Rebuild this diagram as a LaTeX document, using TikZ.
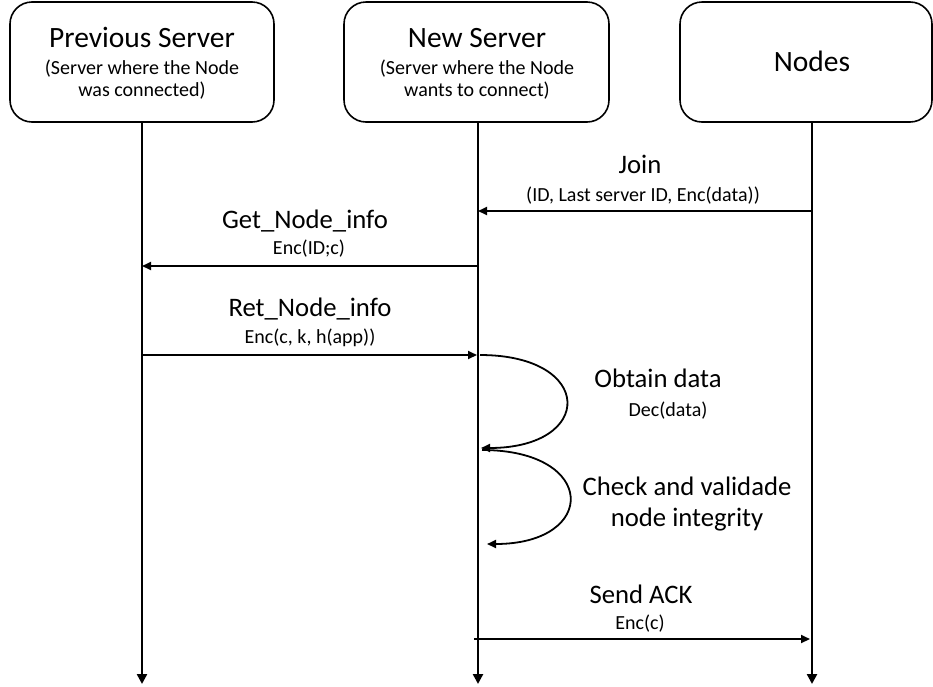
\documentclass[tikz,border=0pt]{standalone}
\usepackage{fontspec}
\setmainfont{Carlito}
\usetikzlibrary{arrows.meta}

\tikzset{
  actor/.style={draw, line width=1.6pt, rounded corners=22pt, minimum width=264pt, minimum height=120pt, inner sep=0pt},
  head/.style={font=\fontsize{29.5}{32}\selectfont, text height=18.5pt, text depth=0pt, inner sep=0pt},
  big/.style={font=\fontsize{26.7}{30}\selectfont, text height=16pt, text depth=0pt, inner sep=0pt},
  small/.style={font=\fontsize{20}{22}\selectfont, text height=12pt, text depth=0pt, inner sep=0pt},
  life/.style={line width=2.4pt, -{Triangle[length=10pt,width=10pt]}},
  msg/.style={line width=1.8pt, -{Triangle[length=9pt,width=8pt]}}
}

\begin{document}
\begin{tikzpicture}[x=1pt, y=-1pt]
\useasboundingbox (0,0) rectangle (933,686);

\node[actor] (prev) at (142,62) {};
\node[actor, minimum width=265pt] (new) at (476.5,62) {};
\node[actor, minimum width=252pt] (nodes) at (806,62) {};

\node[head] (prevhd) at (142,38) {Previous Server};
\node[small] (prevs1) at (142,68) {(Server where the Node};
\node[small] (prevs2) at (142,90) {was connected)};
\node[head] (newhd) at (477,38) {New Server};
\node[small] (news1) at (477,68) {(Server where the Node};
\node[small] (news2) at (477,90) {wants to connect)};
\node[head] (nodeshd) at (812,62) {Nodes};

\coordinate (prevend) at (142,684);
\coordinate (newend) at (478,684);
\coordinate (nodesend) at (812,684);
\draw[life] (prev.south) -- (prevend);
\draw[life] (new.south -| newend) -- (newend);
\draw[life] (nodes.south -| nodesend) -- (nodesend);

\coordinate (join1) at (812,211);
\coordinate (join2) at (478,211);
\draw[msg] (join1) -- (join2);
\node[big] (joinlbl) at (640,165) {Join};
\node[small] (joinsub) at (643,195) {(ID, Last server ID, Enc(data))};

\coordinate (get1) at (478,266);
\coordinate (get2) at (142,266);
\draw[msg] (get1) -- (get2);
\node[big] (getlbl) at (305,220) {Get\_Node\_info};
\node[small] (getsub) at (309,248) {Enc(ID;c)};

\coordinate (ret1) at (142,355);
\coordinate (ret2) at (477,355);
\draw[msg] (ret1) -- (ret2);
\node[big] (retlbl) at (310,308) {Ret\_Node\_info};
\node[small] (retsub) at (310,337) {Enc(c, k, h(app))};

\coordinate (obt1) at (480,355);
\coordinate (obt2) at (481,448);
\draw[msg] (obt1) .. controls (595,355) and (595,448) .. (obt2);
\node[big] (obtlbl) at (658,379) {Obtain data};
\node[small] (obtsub) at (668,410) {Dec(data)};

\coordinate (chk1) at (482,450);
\coordinate (chk2) at (487,544);
\draw[msg] (chk1) .. controls (598,450) and (598,544) .. (chk2);
\node[big] (chklbl) at (687,487) {Check and validade};
\node[big] (chklbl2) at (687,518) {node integrity};

\coordinate (ack1) at (474,639);
\coordinate (ack2) at (810,639);
\draw[msg] (ack1) -- (ack2);
\node[big] (acklbl) at (641,595) {Send ACK};
\node[small] (acksub) at (640,623) {Enc(c)};
\end{tikzpicture}
\end{document}
